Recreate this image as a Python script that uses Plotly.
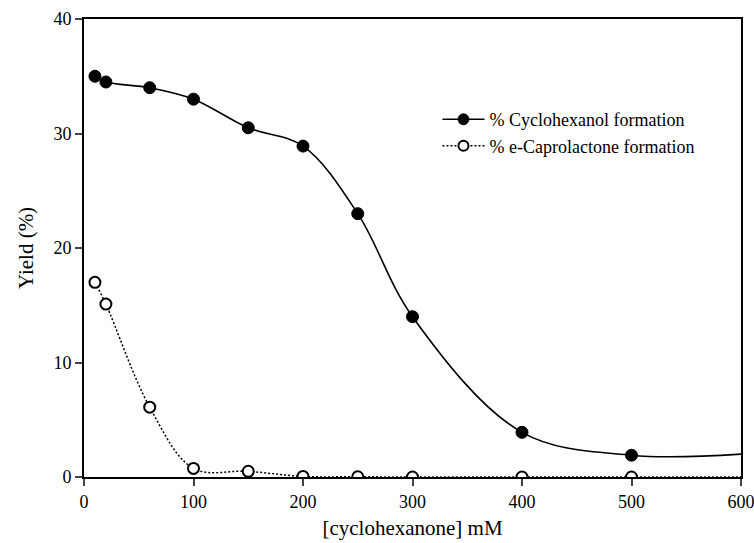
import plotly.graph_objects as go

conc = [10, 20, 60, 100, 150, 200, 250, 300, 400, 500]
cyclohexanol = [35.0, 34.5, 34.0, 33.0, 30.5, 28.9, 23.0, 14.0, 3.9, 1.9]
caprolactone = [17.0, 15.1, 6.1, 0.75, 0.5, 0.05, 0.02, 0.0, 0.0, 0.0]
# curve continuation to the end of the axis (drawn without a marker)
conc_end = 600
cyclohexanol_end = 2.0
caprolactone_end = 0.0

x_ticks = [0, 100, 200, 300, 400, 500, 600]
y_ticks = [0, 10, 20, 30, 40]

font = "Liberation Serif, Times New Roman, serif"

x_line = conc + [conc_end]
sizes_filled = [12] * len(conc) + [0]
sizes_open = [11] * len(conc) + [0]

fig = go.Figure()
fig.add_trace(go.Scatter(
    x=x_line, y=cyclohexanol + [cyclohexanol_end], mode="lines+markers",
    name="% Cyclohexanol formation",
    line=dict(color="black", width=1.6, shape="spline", smoothing=1),
    marker=dict(size=sizes_filled, color="black", opacity=1,
                line=dict(color="black", width=1))))
fig.add_trace(go.Scatter(
    x=x_line, y=caprolactone + [caprolactone_end], mode="lines+markers",
    name="% e-Caprolactone formation",
    line=dict(color="black", width=1.5, shape="spline", smoothing=1, dash="2px,2px"),
    marker=dict(size=sizes_open, color="white", opacity=1,
                line=dict(color="black", width=2))))

fig.update_layout(
    width=754, height=543,
    margin=dict(l=84, r=13, t=19, b=66),
    paper_bgcolor="white", plot_bgcolor="white",
    font=dict(family=font, size=18, color="black"),
    showlegend=True,
    legend=dict(x=0.538, y=0.752, xanchor="left", yanchor="middle",
                bgcolor="rgba(0,0,0,0)", font=dict(size=18), tracegroupgap=0,
                itemwidth=42),
    xaxis=dict(range=[0, 600], tickvals=x_ticks, ticks="outside", ticklen=7,
               tickwidth=1.5, showline=True, linecolor="black", linewidth=2,
               mirror=True, showgrid=False, zeroline=False, automargin=False,
               tickfont=dict(size=18), ticklabeloverflow="allow",
               title=dict(text="[cyclohexanone] mM", font=dict(size=21), standoff=10)),
    yaxis=dict(range=[0, 40], tickvals=y_ticks, ticks="outside", ticklen=7,
               tickwidth=1.5, showline=True, linecolor="black", linewidth=2,
               mirror=True, showgrid=False, zeroline=False, automargin=False,
               tickfont=dict(size=18),
               title=dict(text="Yield (%)", font=dict(size=21), standoff=14)),
)
fig.write_html("out.html", config={"displayModeBar": False},
               post_script="document.body.style.margin='0';document.body.style.overflow='hidden';")
